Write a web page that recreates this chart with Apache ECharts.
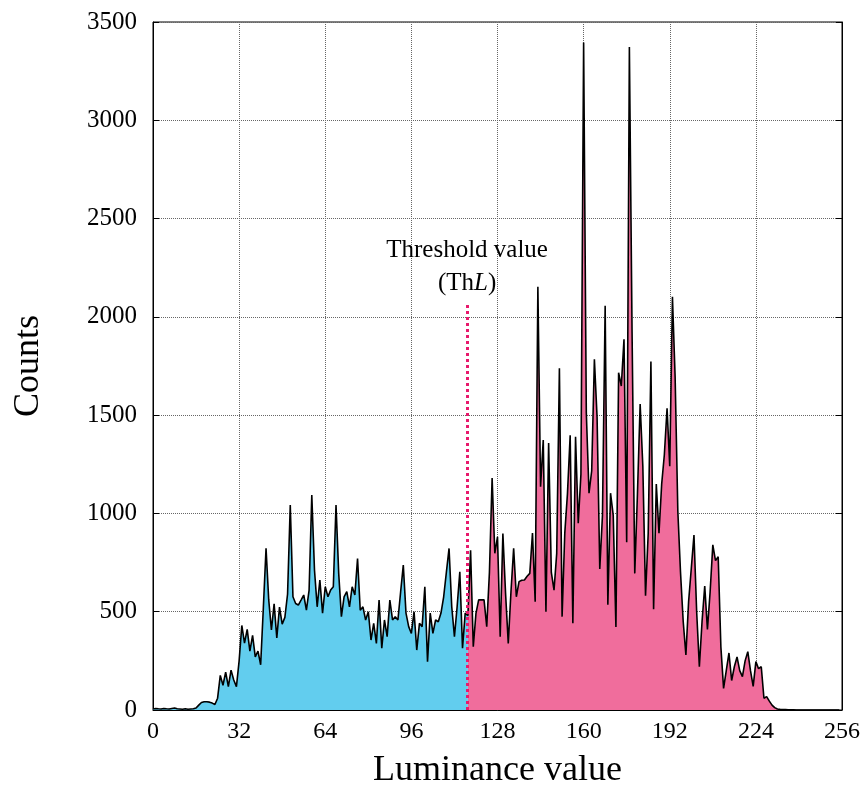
<!DOCTYPE html>
<html>
<head>
<meta charset="utf-8">
<script src="https://cdn.jsdelivr.net/npm/echarts@6/dist/echarts.min.js"></script>
<style>
  html, body { margin: 0; padding: 0; background: #fff; }
  #hist { width: 866px; height: 809px; }
</style>
</head>
<body>
<div id="hist"></div>
<script>
// histogram of luminance values
var lumValues = [];
for (var i = 0; i < 256; i++) lumValues.push(i);

var counts = [
    5, 8, 6, 5, 8, 6, 5, 8, 10, 6,
    5, 4, 6, 4, 5, 6, 10, 25, 38, 42,
    42, 40, 35, 28, 60, 176, 126, 193, 119, 203,
    153, 119, 250, 430, 340, 410, 300, 380, 270, 300,
    230, 520, 823, 560, 407, 540, 366, 523, 437, 471,
    590, 1043, 576, 542, 534, 559, 585, 508, 610, 1093,
    712, 525, 661, 493, 627, 576, 610, 627, 1043, 695,
    475, 576, 602, 525, 627, 585, 771, 508, 525, 458,
    500, 356, 441, 339, 559, 314, 458, 373, 559, 458,
    475, 458, 600, 737, 493, 424, 390, 500, 305, 441,
    424, 627, 246, 493, 390, 458, 449, 493, 576, 700,
    822, 525, 373, 525, 703, 314, 493, 480, 813, 322,
    492, 560, 560, 560, 424, 700, 1180, 797, 881, 373,
    898, 593, 339, 600, 822, 576, 653, 660, 661, 680,
    695, 900, 551, 2153, 1136, 1373, 500, 1358, 700, 610,
    797, 1738, 475, 900, 1102, 1398, 442, 1390, 950, 1200,
    3396, 1512, 1103, 1217, 1784, 1489, 717, 990, 2057, 536,
    1103, 990, 422, 1716, 1648, 1886, 853, 3373, 1920, 695,
    1100, 1557, 1240, 581, 900, 1773, 513, 1149, 899, 1149,
    1300, 1535, 1240, 2102, 1693, 1012, 700, 450, 280, 550,
    720, 890, 500, 220, 450, 630, 410, 600, 840, 760,
    780, 320, 110, 200, 290, 150, 220, 270, 200, 170,
    250, 297, 200, 120, 246, 210, 220, 60, 68, 45,
    25, 12, 5, 3, 2, 2, 1, 1, 1, 0,
    0, 0, 0, 0, 0, 0, 0, 0, 0, 0,
    0, 0, 0, 0, 0, 0
];

var thresholdLum = 117;
var thresholdTop = 2060;
var xTicks = [0, 256, 32];
var yTicks = [0, 3500, 500];

var lowPart = [], highPart = [];
lumValues.forEach(function(v, i) {
    if (v <= thresholdLum) lowPart.push([v, counts[i]]);
    if (v >= thresholdLum) highPart.push([v, counts[i]]);
});

var chart = echarts.init(document.getElementById('hist'));
var serif = 'Liberation Serif, Times New Roman, serif';
var gridLine = {show: true, lineStyle: {color: '#666', type: 'dotted', width: 1}};
var plain = function(v) { return String(v); };

var option = {
    animation: false,
    grid: {left: 153, right: 24, top: 22, bottom: 99, show: true, borderColor: '#000', borderWidth: 1},
    xAxis: {
        type: 'value',
        min: xTicks[0], max: xTicks[1], interval: xTicks[2],
        name: 'Luminance value',
        nameLocation: 'middle',
        nameGap: 43,
        nameTextStyle: {fontFamily: serif, fontSize: 36, color: '#000'},
        axisLine: {lineStyle: {color: '#000'}},
        axisTick: {inside: true, length: 6, lineStyle: {color: '#000'}},
        axisLabel: {fontFamily: serif, fontSize: 24, color: '#000', margin: 10, formatter: plain},
        splitLine: gridLine
    },
    yAxis: [{
        type: 'value',
        min: yTicks[0], max: yTicks[1], interval: yTicks[2],
        name: 'Counts',
        nameLocation: 'middle',
        nameGap: 106,
        nameTextStyle: {fontFamily: serif, fontSize: 36, color: '#000'},
        axisLine: {show: true, lineStyle: {color: '#000'}},
        axisTick: {show: true, inside: true, length: 6, lineStyle: {color: '#000'}},
        axisLabel: {fontFamily: serif, fontSize: 25, color: '#000', margin: 16, formatter: plain},
        splitLine: gridLine
    }, {
        type: 'value', position: 'right',
        min: yTicks[0], max: yTicks[1], interval: yTicks[2],
        axisLine: {show: true, lineStyle: {color: '#000'}},
        axisTick: {show: true, inside: true, length: 6, lineStyle: {color: '#000'}},
        axisLabel: {show: false},
        splitLine: {show: false}
    }],
    series: [
        {
            type: 'line',
            data: lowPart,
            symbol: 'none',
            lineStyle: {color: '#000', width: 1.6},
            areaStyle: {color: '#62cdee', opacity: 1},
            z: 2
        },
        {
            type: 'line',
            data: highPart,
            symbol: 'none',
            lineStyle: {color: '#000', width: 1.6},
            areaStyle: {color: '#f06d9c', opacity: 1},
            z: 2
        },
        {
            type: 'line',
            data: [],
            z: 5,
            markLine: {
                silent: true,
                symbol: ['none', 'none'],
                lineStyle: {color: '#e8196c', type: 'dotted', width: 3},
                label: {
                    position: 'end',
                    distance: 5,
                    formatter: '{a|Threshold value}\n{a|(Th}{i|L}{a|)}',
                    rich: {
                        a: {fontFamily: serif, fontSize: 25, color: '#000', lineHeight: 33},
                        i: {fontFamily: serif, fontSize: 25, fontStyle: 'italic', color: '#000', lineHeight: 33}
                    }
                },
                data: [[{coord: [thresholdLum - 0.3, 0]}, {coord: [thresholdLum - 0.3, thresholdTop]}]]
            }
        }
    ]
};

chart.setOption(option);
</script>
</body>
</html>
